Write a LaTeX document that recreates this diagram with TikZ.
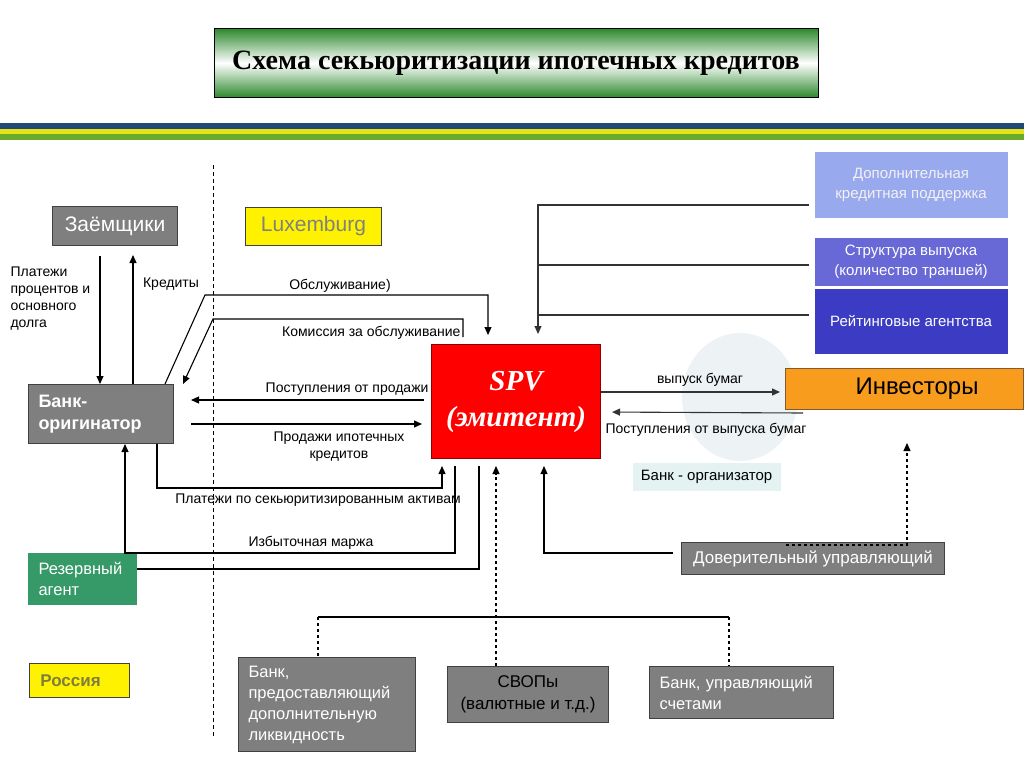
\documentclass[tikz,border=0pt]{standalone}
\usepackage{fontspec}
\setmainfont{Liberation Sans}
\newfontfamily\serifbold{Liberation Serif}
\usetikzlibrary{arrows.meta,positioning,calc}

\definecolor{boxgray}{HTML}{7F7F7F}
\definecolor{edgegray}{HTML}{404040}
\definecolor{titlegreen}{HTML}{2F8A2F}
\definecolor{stripeblue}{HTML}{1F4A78}
\definecolor{stripeyellow}{HTML}{E6E21A}
\definecolor{stripegreen}{HTML}{6AAB2C}
\definecolor{suppblue}{HTML}{99A9EE}
\definecolor{structblue}{HTML}{6868D6}
\definecolor{ratingblue}{HTML}{3B3BC4}
\definecolor{investorange}{HTML}{F79C1C}
\definecolor{reservegreen}{HTML}{369A68}
\definecolor{olivetext}{HTML}{7E7E3E}
\definecolor{paleblue}{HTML}{EDF3F5}
\definecolor{orgcyan}{HTML}{E4F2F2}

\tikzset{
  box/.style={draw=edgegray, line width=1pt, fill=boxgray, text=white, anchor=north west, inner sep=0pt, align=center},
  leftbox/.style={box, align=left, inner xsep=10pt},
  bluebox/.style={anchor=north west, inner sep=0pt, align=center, text=white, font=\fontsize{15}{20}\selectfont},
  lbl/.style={font=\fontsize{14}{17}\selectfont, inner sep=0pt, align=center},
  arr/.style={-{Triangle[length=8pt,width=7pt]}},
}

\begin{document}
\begin{tikzpicture}[x=1pt, y=-1pt, line width=1.1pt]
    \useasboundingbox (0,0) rectangle (1024,768);
    \fill[paleblue] (740,397) ellipse [x radius=58, y radius=64];

    \node[draw=black, line width=1pt, top color=titlegreen, bottom color=titlegreen, middle color=white,
          minimum width=604pt, minimum height=68pt, font=\serifbold\bfseries\fontsize{28}{32}\selectfont]
          (title) at (516,63) {Схема секьюритизации ипотечных кредитов};

    \fill[stripeblue] (0,123) rectangle (1024,129);
    \fill[stripeyellow] (0,129) rectangle (1024,134);
    \fill[stripegreen] (0,134) rectangle (1024,140);

    \draw[line width=0.9pt, dash pattern=on 4pt off 3pt] (213,165) -- (213,738);

    \node[box, minimum width=125pt, minimum height=39pt, font=\fontsize{21}{24}\selectfont] (borrow) at (52,206) {Заёмщики};
    \node[box, fill=yellow, text=black!50, minimum width=136pt, minimum height=38pt, font=\fontsize{21}{24}\selectfont] (lux) at (245,207) {Luxemburg};
    \node[leftbox, text width=125pt, minimum height=59pt, font=\bfseries\fontsize{18}{22}\selectfont] (orig) at (28,384) {Банк-\\оригинатор};
    \node[box, fill=red, draw=red!55!black, minimum width=169pt, minimum height=114pt,
          font=\serifbold\bfseries\itshape\fontsize{29}{36}\selectfont] (spv) at (431,344) {SPV\\(эмитент)};
    \node[box, fill=investorange, draw=brown!70!black, text=black, minimum width=238pt, minimum height=41pt,
          font=\fontsize{24}{28}\selectfont] (invest) at (785,368) {\hspace{25pt}Инвесторы};

    \node[bluebox, fill=suppblue, text=white!90!gray, minimum width=193pt, minimum height=66pt] (supp) at (814,151) {Дополнительная\\кредитная поддержка};
    \node[bluebox, fill=structblue, minimum width=193pt, minimum height=48pt] (struct) at (814,237) {Структура выпуска\\(количество траншей)};
    \node[bluebox, fill=ratingblue, minimum width=193pt, minimum height=65pt] (rating) at (814,288) {Рейтинговые агентства};

    \node[bluebox, fill=orgcyan, text=black, minimum width=148pt, minimum height=28pt] (org) at (632,462) {Банк - организатор};
    \node[box, minimum width=263pt, minimum height=32pt, font=\fontsize{17}{20}\selectfont] (trust) at (681,542) {Доверительный управляющий};
    \node[leftbox, fill=reservegreen, draw=reservegreen, text width=88pt, minimum height=51pt, font=\fontsize{16.5}{21}\selectfont] (reserve) at (28,553) {Резервный\\агент};
    \node[box, fill=yellow, text=olivetext, minimum width=100pt, minimum height=34pt, font=\bfseries\fontsize{17}{20}\selectfont] (russia) at (29,663) {\hspace{-18pt}Россия};

    \node[leftbox, text width=157pt, minimum height=94pt, font=\fontsize{16.5}{21}\selectfont] (liq) at (238,657) {Банк,\\предоставляющий\\дополнительную\\ликвидность};
    \node[box, text=black, minimum width=161pt, minimum height=56pt, font=\fontsize{17}{22}\selectfont] (swap) at (447,666) {СВОПы\\(валютные и т.д.)};
    \node[leftbox, text width=164pt, minimum height=52pt, font=\fontsize{16.5}{21}\selectfont] (acct) at (649,666) {Банк, управляющий\\счетами};

    \node[lbl, anchor=north west, align=left] (paylbl) at (10,266) {Платежи\\процентов и\\основного\\долга};
    \node[lbl] (credlbl) at (171,284) {Кредиты};
    \node[lbl] (servlbl) at (340,286) {Обслуживание)};
    \node[lbl, anchor=east] (feelbl) at (461,333) {Комиссия за обслуживание};
    \node[lbl, anchor=east] (proclbl) at (429,389) {Поступления от продажи};
    \node[lbl] (salelbl) at (339,447) {Продажи ипотечных\\кредитов};
    \node[lbl] (securlbl) at (318,500) {Платежи по секьюритизированным активам};
    \node[lbl] (marglbl) at (311,543) {Избыточная маржа};
    \node[lbl] (issuelbl) at (700,380) {выпуск бумаг};
    \node[lbl] (issprlbl) at (706,430) {Поступления от выпуска бумаг};

    \draw[arr, shorten <=10pt] (borrow.south -| 100,0) -- (orig.north -| 100,0);
    \draw[arr, shorten >=9pt] (orig.north -| 133,0) -- (borrow.south -| 133,0);
    \draw[arr, shorten >=9pt] (orig.north -| 165,0) -- (205,295) -- (488,295) -- (spv.north -| 488,0);
    \draw[arr, shorten <=7pt] (spv.north -| 463,0) -- (463,319) -- (213,319) -- ([xshift=9pt]orig.north east);
    \draw[arr, shorten <=7pt, shorten >=17pt] (spv.west |- 0,400) -- (orig.east |- 0,400);
    \draw[arr, shorten <=17pt, shorten >=9pt] (orig.east |- 0,424) -- (spv.west |- 0,424);
    \draw[arr, shorten >=7pt] (orig.south -| 157,0) -- (157,488) -- (442,488) -- (spv.south -| 442,0);
    \draw[arr, shorten <=7pt] (spv.south -| 455,0) -- (455,553) -- (125,553) -- (orig.south -| 125,0);
    \draw[shorten >=7pt] (reserve.east |- 0,569) -- (479,569) -- (spv.south -| 479,0);
    \draw[arr, dashed, shorten >=7pt] (swap.north -| 496,0) -- (spv.south -| 496,0);
    \draw[arr, shorten <=8pt, shorten >=7pt] (trust.west |- 0,553) -- (544,553) -- (spv.south -| 544,0);
    \draw[arr, dashed, shorten >=33pt] ($(trust.north west)+(105,3)$) -| (invest.south -| 907,0);

    \coordinate (brL) at (318,617);
    \coordinate (brR) at (729,617);
    \draw (brL) -- (brR);
    \draw[dashed] (brL) -- (liq.north -| brL);
    \draw[dashed] (brR) -- (acct.north -| brR);

    \draw[arr, black!80, shorten <=5pt, shorten >=10pt] (supp.west |- 0,205) -- (538,205) -- (spv.north -| 538,0);
    \draw[black!80, shorten <=5pt] (struct.west |- 0,265) -- (538,265);
    \draw[black!80, shorten <=5pt] (rating.west |- 0,315) -- (538,315);

    \draw[arr, black!80, shorten >=5pt] (spv.east |- 0,392) -- (invest.west |- 0,392);
    \draw[arr, black!80, shorten >=11pt] ($(invest.south west)+(18,3)$) -- (spv.east |- 0,412);
\end{tikzpicture}
\end{document}
